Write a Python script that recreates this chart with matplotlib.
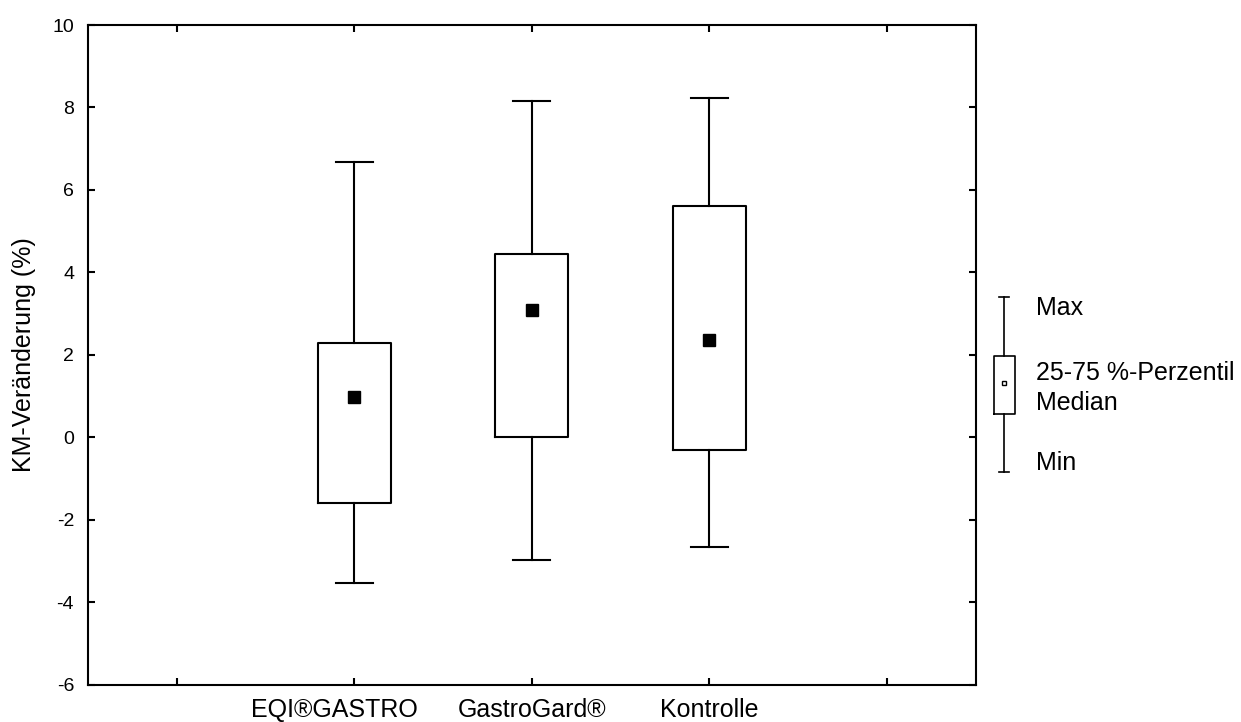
import matplotlib
matplotlib.use('Agg')
import matplotlib.pyplot as plt
import matplotlib.transforms as mtransforms

# data (KM change in %)
groups = ['EQI®GASTRO', 'GastroGard®', 'Kontrolle']
mins = [-3.54, -2.98, -2.67]
q1s = [-1.60, 0.0, -0.32]
medians = [0.97, 3.08, 2.35]
q3s = [2.28, 4.44, 5.62]
maxs = [6.68, 8.16, 8.22]

yticks = [-6, -4, -2, 0, 2, 4, 6, 8, 10]

plt.rcParams['font.family'] = ['Liberation Sans', 'DejaVu Sans']

fig = plt.figure(figsize=(12.41, 7.22), dpi=100)
ax = fig.add_axes([88/1241, 1 - 684.5/722, (975.5 - 88)/1241, (684.5 - 25)/722])

stats = []
for g, lo, a, m, b, hi in zip(groups, mins, q1s, medians, q3s, maxs):
    stats.append({'label': g, 'whislo': lo, 'q1': a, 'med': m, 'q3': b, 'whishi': hi, 'fliers': []})

positions = [2, 3, 4]
lw = 1.5
ax.bxp(stats, positions=positions, widths=0.41, capwidths=0.21, showfliers=False,
       boxprops=dict(color='black', linewidth=lw),
       whiskerprops=dict(color='black', linewidth=lw),
       capprops=dict(color='black', linewidth=lw),
       medianprops=dict(linewidth=0))
ax.plot(positions, medians, 's', color='black', markersize=8.5, linestyle='none')

ax.set_xlim(0.5, 5.5)
ax.set_ylim(-6, 10)
ax.set_xticks([1, 2, 3, 4, 5])
ax.set_xticklabels([''] + groups + [''], fontsize=18)
ax.set_yticks(yticks)
ax.set_yticklabels([str(t) for t in yticks], fontsize=14)
ax.tick_params(direction='in', length=5, width=1.5, top=True, right=True, pad=10)
for s in ax.spines.values():
    s.set_linewidth(1.5)
ax.set_ylabel('KM-Veränderung (%)', fontsize=18)
ax.yaxis.set_label_coords(-0.059, 0.5)

# first category label sits a bit left of its tick in the original
lab = ax.get_xticklabels()[1]
lab.set_transform(lab.get_transform() + mtransforms.ScaledTranslation(-0.2, 0, fig.dpi_scale_trans))

# legend key drawn in its own axes (pixel coordinates)
lax = fig.add_axes([980/1241, 1 - 490/722, 261/1241, 210/722])
lax.set_xlim(980, 1241)
lax.set_ylim(490, 280)
lax.axis('off')
lax.bxp([{'whislo': 472, 'q1': 414, 'med': 383, 'q3': 356, 'whishi': 297, 'fliers': []}],
        positions=[1004], widths=21, capwidths=10, showfliers=False,
        boxprops=dict(color='black', linewidth=1.2),
        whiskerprops=dict(color='black', linewidth=1.2),
        capprops=dict(color='black', linewidth=1.2),
        medianprops=dict(linewidth=0))
lax.plot([1004], [383], 's', mfc='white', mec='black', mew=1, markersize=3.5)
lax.text(1036, 308, 'Max', fontsize=18, va='center')
lax.text(1036, 373, '25-75 %-Perzentil', fontsize=18, va='center')
lax.text(1036, 403, 'Median', fontsize=18, va='center')
lax.text(1036, 463, 'Min', fontsize=18, va='center')

fig.savefig('out.png', dpi=100)
